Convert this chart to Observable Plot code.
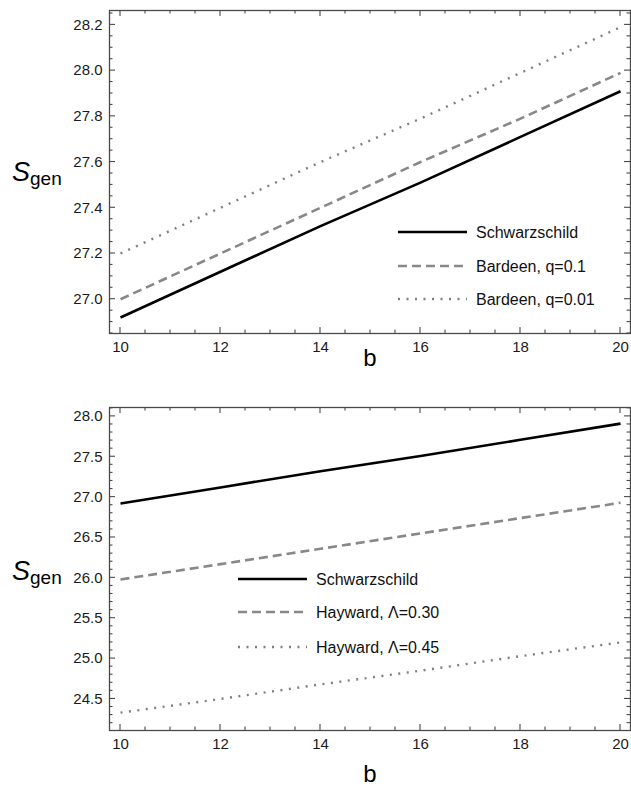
<!DOCTYPE html>
<html>
<head>
<meta charset="utf-8">
<script src="https://cdn.jsdelivr.net/npm/d3@7"></script>
<script src="https://cdn.jsdelivr.net/npm/@observablehq/plot@0.6"></script>
<style>
  html, body { margin: 0; padding: 0; background: #fff; }
  #chart svg { display: block; }
</style>
</head>
<body>
<div id="chart"></div>
<script>
// ---------- data ----------
const bValues = [10, 12, 14, 16, 18, 20];

// top panel
const schwarzschildTop = [26.92, 27.12, 27.32, 27.51, 27.71, 27.91];
const bardeenQ01 = [27.00, 27.20, 27.40, 27.60, 27.79, 27.99];
const bardeenQ001 = [27.20, 27.40, 27.60, 27.79, 27.99, 28.19];

// bottom panel
const schwarzschildBottom = [26.92, 27.12, 27.32, 27.51, 27.71, 27.91];
const haywardL030 = [25.98, 26.17, 26.36, 26.55, 26.74, 26.93];
const haywardL045 = [24.33, 24.50, 24.68, 24.85, 25.03, 25.20];

// tick values
const xMajorTicks = [10, 12, 14, 16, 18, 20];
const xMinorTicks = [10.5, 11, 11.5, 12.5, 13, 13.5, 14.5, 15, 15.5, 16.5, 17, 17.5, 18.5, 19, 19.5];
const yMajorTop = [27.0, 27.2, 27.4, 27.6, 27.8, 28.0, 28.2];
const yMinorTop = [26.85, 26.9, 26.95, 27.05, 27.1, 27.15, 27.25, 27.3, 27.35, 27.45, 27.5, 27.55,
  27.65, 27.7, 27.75, 27.85, 27.9, 27.95, 28.05, 28.1, 28.15, 28.25];
const yMajorBottom = [24.5, 25.0, 25.5, 26.0, 26.5, 27.0, 27.5, 28.0];
const yMinorBottom = [24.2, 24.3, 24.4, 24.6, 24.7, 24.8, 24.9, 25.1, 25.2, 25.3, 25.4, 25.6, 25.7, 25.8, 25.9,
  26.1, 26.2, 26.3, 26.4, 26.6, 26.7, 26.8, 26.9, 27.1, 27.2, 27.3, 27.4, 27.6, 27.7, 27.8, 27.9, 28.1];

const legendTop = ["Schwarzschild", "Bardeen, q=0.1", "Bardeen, q=0.01"];
const legendBottom = ["Schwarzschild", "Hayward, \u039B=0.30", "Hayward, \u039B=0.45"];

// ---------- styles ----------
const FONT = "'Liberation Sans', Arial, Helvetica, sans-serif";
const FRAME = "#4a4a4a";
const styles = [
  {stroke: "#000", strokeWidth: 2.6, strokeDasharray: null},
  {stroke: "#888", strokeWidth: 2.6, strokeDasharray: "9,5"},
  {stroke: "#808080", strokeWidth: 2.4, strokeDasharray: "2,6.5"}
];

function rows(vals) { return bValues.map((b, i) => ({b, s: vals[i]})); }

function panel(o) {
  const series = o.series;
  const plot = Plot.plot({
    width: 631,
    height: o.height,
    marginLeft: 109,
    marginRight: 1,
    marginTop: o.marginTop,
    marginBottom: o.marginBottom,
    style: {fontFamily: FONT, fontSize: "15px", color: "#222", background: "#fff"},
    x: {domain: [9.78, 20.2]},
    y: {domain: o.yDomain},
    marks: [
      ...series.map((vals, i) => Plot.line(rows(vals), {
        x: "b", y: "s",
        stroke: styles[i].stroke,
        strokeWidth: styles[i].strokeWidth,
        strokeDasharray: styles[i].strokeDasharray,
        strokeLinecap: "butt"
      })),
      Plot.frame({stroke: FRAME, strokeWidth: 1.3}),
      Plot.axisX({anchor: "bottom", ticks: xMajorTicks, tickSize: 0, tickPadding: 8, label: null,
        tickFormat: d3.format("d"), fill: "#1a1a1a", fontSize: 15}),
      Plot.axisY({anchor: "left", ticks: o.yMajor, tickSize: 0, tickPadding: 7, label: null,
        tickFormat: d3.format(".1f"), fill: "#1a1a1a", fontSize: 15})
    ]
  });

  const svg = d3.select(plot);
  const sx = plot.scale("x"), sy = plot.scale("y");
  const x0 = 109, x1 = 630, y0 = o.marginTop, y1 = o.height - o.marginBottom;
  const tg = svg.append("g").attr("stroke", FRAME).attr("stroke-width", 1.1);
  const addX = (vals, len) => vals.forEach(v => {
    const x = sx.apply(v);
    tg.append("line").attr("x1", x).attr("x2", x).attr("y1", y1).attr("y2", y1 - len);
    tg.append("line").attr("x1", x).attr("x2", x).attr("y1", y0).attr("y2", y0 + len);
  });
  const addY = (vals, len) => vals.forEach(v => {
    const y = sy.apply(v);
    if (y < y0 || y > y1) return;
    tg.append("line").attr("x1", x0).attr("x2", x0 + len).attr("y1", y).attr("y2", y);
    tg.append("line").attr("x1", x1).attr("x2", x1 - len).attr("y1", y).attr("y2", y);
  });
  addX(xMajorTicks, 6); addX(xMinorTicks, 3.5);
  addY(o.yMajor, 6); addY(o.yMinor, 3.5);

  // y label S_gen
  const yl = svg.append("text")
    .attr("x", 12).attr("y", o.yLabelY)
    .attr("text-anchor", "start")
    .attr("font-family", FONT).attr("fill", "#000");
  yl.append("tspan").attr("font-style", "italic").attr("font-size", 27).text("S");
  yl.append("tspan").attr("font-size", 19).attr("dy", 4).text("gen");
  // x label b
  svg.append("text")
    .attr("x", 370).attr("y", o.xLabelY)
    .attr("text-anchor", "middle")
    .attr("font-family", FONT).attr("font-size", 24).attr("fill", "#000")
    .text("b");
  // legend
  const lg = svg.append("g");
  o.legend.forEach((name, i) => {
    const y = o.legendY[i];
    lg.append("line")
      .attr("x1", o.legendX).attr("x2", o.legendX + 69)
      .attr("y1", y).attr("y2", y)
      .attr("stroke", styles[i].stroke)
      .attr("stroke-width", styles[i].strokeWidth)
      .attr("stroke-dasharray", styles[i].strokeDasharray);
    lg.append("text")
      .attr("x", o.legendX + 78).attr("y", y)
      .attr("dy", "0.35em")
      .attr("text-anchor", "start")
      .attr("font-family", FONT).attr("font-size", 16).attr("fill", "#111")
      .text(name);
  });
  return plot;
}

const chart = document.getElementById("chart");
chart.append(panel({
  height: 390, marginTop: 10, marginBottom: 57,
  yDomain: [26.85, 28.263],
  yMajor: yMajorTop, yMinor: yMinorTop,
  series: [schwarzschildTop, bardeenQ01, bardeenQ001],
  legend: legendTop, legendX: 398, legendY: [232, 266, 299],
  yLabelY: 181, xLabelY: 366
}));
chart.append(panel({
  height: 403, marginTop: 17, marginBottom: 63,
  yDomain: [24.109, 28.11],
  yMajor: yMajorBottom, yMinor: yMinorBottom,
  series: [schwarzschildBottom, haywardL030, haywardL045],
  legend: legendBottom, legendX: 238, legendY: [189, 222, 257],
  yLabelY: 190, xLabelY: 392
}));
</script>
</body>
</html>
